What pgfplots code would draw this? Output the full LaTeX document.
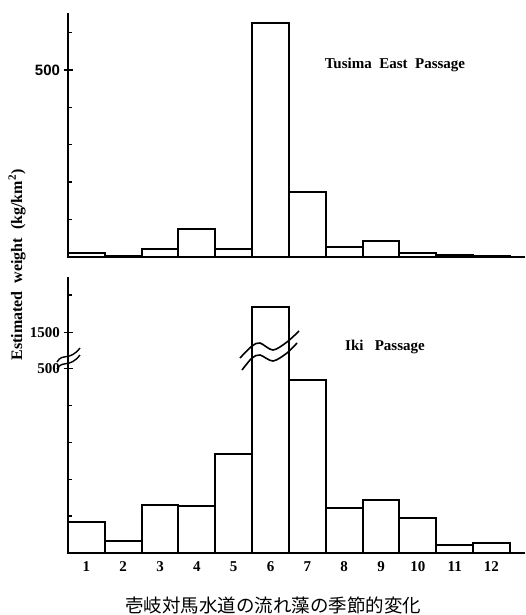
\documentclass[border=0pt]{standalone}
\usepackage{fontspec}
\setmainfont{Liberation Serif}
\newfontfamily\cjk{Noto Sans CJK JP}
\newfontfamily\sansb{Liberation Sans}
\usepackage{pgfplots}
\pgfplotsset{compat=1.18}
\pgfplotsset{
  panel/.style={
    anchor=south west, scale only axis, width=457pt,
    xmin=0.5, xmax=12.91, ymin=0,
    axis x line*=bottom, axis y line*=left,
    axis line style={-, line width=2.3pt, black},
    axis on top,
    /pgf/number format/assume math mode=true,
    tick align=inside, major tick length=4pt,
    tick style={line width=1.4pt, black},
    yticklabel style={font=\fontsize{15}{17}\selectfont\bfseries},
    xticklabel style={font=\fontsize{15}{17}\selectfont\bfseries, yshift=-5pt},
    extra y tick style={tick align=center, major tick length=9pt},
    clip=false,
  },
  bars/.style={ybar, bar width=1, draw=black, fill=white, line width=2pt},
}
\begin{document}
\begin{tikzpicture}[x=1pt,y=1pt]
\path[use as bounding box] (0,0) rectangle (525,-615);
% Top panel: Tusima East Passage
\begin{axis}[panel, at={(68pt,-257pt)}, height=244pt, ymax=652,
  xtick=\empty,
  ytick={100,200,300,400,600}, yticklabels={},
  extra y ticks={500}, extra y tick labels={\sansb\bfseries 500},
]
\addplot[bars] coordinates {
(1,11) (2,3) (3,21) (4,76) (5,22) (6,626) (7,173) (8,28) (9,43) (10,10) (11,5) (12,3)};
\end{axis}
% Bottom panel: Iki Passage (broken axis, display scale)
\begin{axis}[panel, at={(68pt,-553pt)}, height=276pt, ymax=748,
  xtick={1,...,12}, xticklabels={1,2,3,4,5,6,7,8,9,10,11,12}, major x tick style={draw=none},
  ytick={100,200,300,400,699}, yticklabels={},
  extra y ticks={500,597}, extra y tick labels={500,1500},
]
\addplot[bars] coordinates {
(1,85) (2,33) (3,130) (4,127) (5,267) (6,667) (7,470) (8,121) (9,144) (10,94) (11,22) (12,26)};
\end{axis}
% break marks on axis
\draw[line width=1.4pt] (57,-362) .. controls (63,-352) and (69,-362) .. (80,-348);
\draw[line width=1.4pt] (57,-369) .. controls (63,-359) and (69,-369) .. (80,-355);
% break marks on bar 6
\draw[line width=1.6pt] plot[smooth] coordinates {(240,-358) (252,-346) (260,-343) (273,-350) (287,-342) (299,-331)};
\draw[line width=1.6pt] plot[smooth] coordinates {(242,-370) (252,-358) (260,-355) (273,-361) (287,-353) (297,-343)};
% texts
\node[font=\fontsize{15}{17}\selectfont\bfseries] at (395,-65) {Tusima\ \ East\ \ Passage};
\node[font=\fontsize{15}{17}\selectfont\bfseries] at (385,-347) {Iki\ \ \ Passage};
\node[rotate=90, font=\fontsize{16}{18}\selectfont\bfseries] at (17,-265) {Estimated\ \ weight\ \ (kg/km\textsuperscript{2})};
\node[font=\cjk\fontsize{18.5}{20}\selectfont] at (273,-605) {壱岐対馬水道の流れ藻の季節的変化};
\end{tikzpicture}
\end{document}
